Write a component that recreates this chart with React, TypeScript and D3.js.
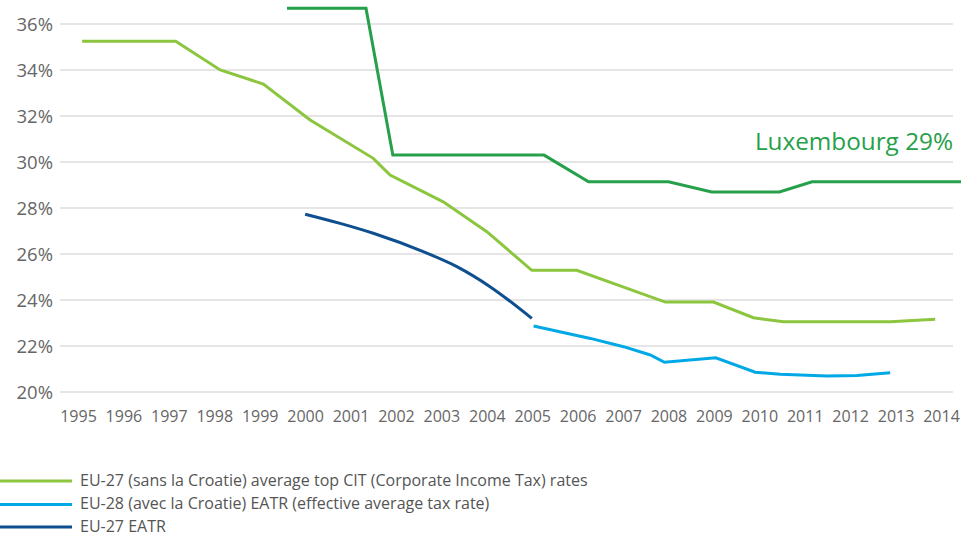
import React from "react";
import * as d3 from "d3";

const W = 961;
const H = 536;

const yTicks = [20, 22, 24, 26, 28, 30, 32, 34, 36];
const xYears = [1995, 1996, 1997, 1998, 1999, 2000, 2001, 2002, 2003, 2004, 2005, 2006, 2007, 2008, 2009, 2010, 2011, 2012, 2013, 2014];

const citYears = [1995.08, 1997.14, 1998.12, 1999.07, 2000.1, 2001.49, 2001.86, 2003.03, 2003.99, 2004.98, 2005.97, 2007.92, 2008.98, 2009.86, 2010.52, 2012.87, 2013.86];
const citValues = [35.25, 35.25, 34.0, 33.39, 31.83, 30.16, 29.43, 28.27, 26.97, 25.29, 25.29, 23.91, 23.91, 23.23, 23.05, 23.05, 23.16];

const luxYears = [1999.59, 2001.33, 2001.92, 2005.25, 2006.23, 2007.99, 2008.94, 2010.43, 2011.15, 2014.44];
const luxValues = [36.68, 36.68, 30.3, 30.3, 29.14, 29.14, 28.7, 28.7, 29.14, 29.14];

const eu27Years = [1999.99, 2000.76, 2001.49, 2002.59, 2003.33, 2004.06, 2004.98];
const eu27Values = [27.73, 27.33, 26.9, 26.1, 25.45, 24.58, 23.2];

const eu28Years = [2005.02, 2006.27, 2007.0, 2007.59, 2007.9, 2009.03, 2009.9, 2010.45, 2011.48, 2012.14, 2012.87];
const eu28Values = [22.87, 22.33, 21.97, 21.61, 21.29, 21.49, 20.86, 20.77, 20.7, 20.72, 20.84];

const legendLabels = [
  "EU-27 (sans la Croatie) average top CIT (Corporate Income Tax) rates",
  "EU-28 (avec la Croatie) EATR (effective average tax rate)",
  "EU-27 EATR",
];
const luxLabel = "Luxembourg 29%";

const C_LIGHTGREEN = "#8cc63f";
const C_DARKGREEN = "#26a04a";
const C_LIGHTBLUE = "#00a8e6";
const C_DARKBLUE = "#0d4f8f";
const FONT = "'Open Sans', 'Noto Sans', sans-serif";

export default function App() {
  const x = d3.scaleLinear().domain([1995, 2014]).range([78.5, 941.5]);
  const y = d3.scaleLinear().domain([20, 36]).range([392, 24]);

  const mk = (xs: number[], vs: number[], curve: d3.CurveFactory = d3.curveLinear) =>
    d3
      .line<number>()
      .x((_, i) => x(xs[i]))
      .y((v) => y(v))
      .curve(curve)(vs) as string;

  const series = [
    { d: mk(citYears, citValues), color: C_LIGHTGREEN },
    { d: mk(luxYears, luxValues), color: C_DARKGREEN },
    { d: mk(eu27Years, eu27Values, d3.curveMonotoneX), color: C_DARKBLUE },
    { d: mk(eu28Years, eu28Values), color: C_LIGHTBLUE },
  ];

  const legendColors = [C_LIGHTGREEN, C_LIGHTBLUE, C_DARKBLUE];
  const legendY = [481, 504.5, 527];

  return (
    <svg
      width={W}
      height={H}
      style={{ position: "absolute", left: 0, top: 0, background: "#fff" }}
      fontFamily={FONT}
    >
      <g>
        {yTicks.map((t) => (
          <g key={t}>
            <line x1={60} x2={953} y1={y(t)} y2={y(t)} stroke="#cccccc" strokeWidth={1.2} />
            <text x={53} y={y(t)} dy="0.36em" textAnchor="end" fontSize={18.5} fill="#666">
              {t}%
            </text>
          </g>
        ))}
      </g>
      <g>
        {xYears.map((yr) => (
          <text key={yr} x={x(yr)} y={421.5} textAnchor="middle" fontSize={16} fill="#666">
            {yr}
          </text>
        ))}
      </g>
      {series.map((s, i) => (
        <path key={i} d={s.d} fill="none" stroke={s.color} strokeWidth={3} strokeLinejoin="miter" />
      ))}
      <text x={953} y={150} textAnchor="end" fontSize={24.3} fill={C_DARKGREEN}>
        {luxLabel}
      </text>
      {legendLabels.map((lbl, i) => (
        <g key={lbl}>
          <line x1={0} x2={72} y1={legendY[i]} y2={legendY[i]} stroke={legendColors[i]} strokeWidth={3} />
          <text x={80} y={legendY[i] + 4.5} fontSize={16} fill="#555">
            {lbl}
          </text>
        </g>
      ))}
    </svg>
  );
}
